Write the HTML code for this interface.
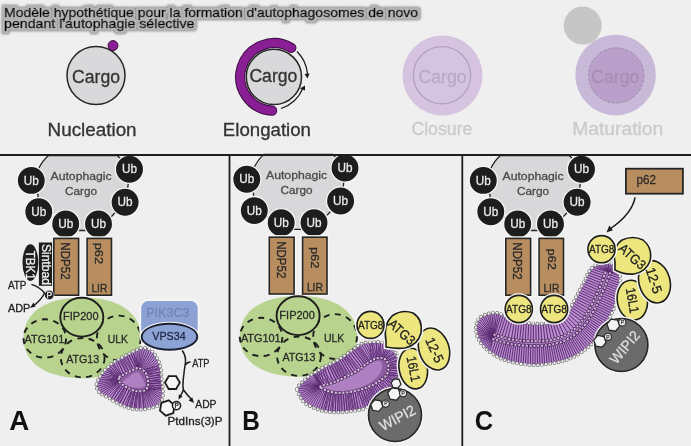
<!DOCTYPE html>
<html><head><meta charset="utf-8">
<style>
html,body{margin:0;padding:0;background:#efefef;overflow:hidden;}
svg{display:block;will-change:transform;}
text{font-family:"Liberation Sans",sans-serif;}
</style></head><body>
<svg width="691" height="446" viewBox="0 0 691 446">
<defs>
<filter id="glow" x="-5%" y="-40%" width="110%" height="180%">
<feMorphology in="SourceAlpha" operator="dilate" radius="2.6" result="d1"/>
<feGaussianBlur in="d1" stdDeviation="1.1" result="b1"/>
<feFlood flood-color="#8e8e8e"/>
<feComposite in2="b1" operator="in" result="g1"/>
<feMorphology in="SourceAlpha" operator="dilate" radius="1.5" result="d2"/>
<feGaussianBlur in="d2" stdDeviation="0.7" result="b2"/>
<feFlood flood-color="#b6b6b6"/>
<feComposite in2="b2" operator="in" result="g2"/>
<feMerge><feMergeNode in="g1"/><feMergeNode in="g2"/><feMergeNode in="SourceGraphic"/></feMerge>
</filter>
<g id="ub">
<circle r="14.1" fill="#1d1d1d" stroke="#f6f6f6" stroke-width="1.3"/>
<text y="4.1" text-anchor="middle" font-size="13.4" fill="#ececec" textLength="15" lengthAdjust="spacingAndGlyphs" stroke="#ececec" stroke-width="0.3">Ub</text>
</g>
<g id="cargo">
<path d="M48.5,155.5 Q42,161 38,170 L31.3,180.4 L38,195 L38.8,211.8 L65.7,223.9 L66,230.5 L98.5,230.5 L98.5,223.9 L112,216 L125.1,202.2 L128,186 L129.5,169.2 L117.4,155.5 Z" fill="#d8d8da" stroke="#222" stroke-width="1.3"/>
<text x="81.1" y="180.4" text-anchor="middle" font-size="11.8" fill="#4a4a4a" textLength="61.2" lengthAdjust="spacingAndGlyphs" stroke="#4a4a4a" stroke-width="0.3">Autophagic</text>
<text x="81.1" y="195" text-anchor="middle" font-size="11.8" fill="#4a4a4a" textLength="32" lengthAdjust="spacingAndGlyphs" stroke="#4a4a4a" stroke-width="0.3">Cargo</text>
<use href="#ub" x="31.3" y="180.4"/>
<use href="#ub" x="38.8" y="211.8"/>
<use href="#ub" x="65.7" y="223.9"/>
<use href="#ub" x="98.5" y="223.9"/>
<use href="#ub" x="129.5" y="169.2"/>
<use href="#ub" x="125.1" y="202.2"/>
<rect x="53.8" y="238.4" width="24.8" height="56.8" fill="none" stroke="#f6f6f6" stroke-width="4.2"/>
<rect x="87.1" y="238.4" width="24.4" height="56.8" fill="none" stroke="#f6f6f6" stroke-width="4.2"/>
<rect x="53.8" y="238.4" width="24.8" height="56.8" fill="#b88e60" stroke="#262626" stroke-width="1.6"/>
<rect x="87.1" y="238.4" width="24.4" height="56.8" fill="#b88e60" stroke="#262626" stroke-width="1.6"/>
<text transform="translate(61.2,261) rotate(90)" text-anchor="middle" font-size="12.5" fill="#2a2a2a" textLength="37.3" lengthAdjust="spacingAndGlyphs" stroke="#2a2a2a" stroke-width="0.3">NDP52</text>
<text x="99.4" y="292.2" text-anchor="middle" font-size="10.8" fill="#2a2a2a" textLength="16" lengthAdjust="spacingAndGlyphs" stroke="#2a2a2a" stroke-width="0.3">LIR</text>
</g>
<g id="ulk">
<path d="M23.400000000000006,337.8 C23.400000000000006,312.8 45.7,297.40000000000003 82.2,297.40000000000003 C118.7,297.40000000000003 141.0,312.8 141.0,337.8 C141.0,362.8 118.7,378.2 82.2,378.2 C45.7,378.2 23.400000000000006,362.8 23.400000000000006,337.8Z" fill="#b7d38d"/>
<g fill="none" stroke="#1e1e1e" stroke-width="1.9" stroke-dasharray="6 5.5">
<ellipse cx="44.8" cy="338.5" rx="21.3" ry="19.2"/>
<ellipse cx="118.8" cy="338" rx="21.9" ry="22.4"/>
<ellipse cx="82.7" cy="357.7" rx="21.9" ry="19.7"/>
</g>
<ellipse cx="81.8" cy="317.2" rx="21.5" ry="19.4" fill="#b7d38d" stroke="#1e1e1e" stroke-width="1.9"/>
<g font-size="11.5" fill="#2a2a2a" lengthAdjust="spacingAndGlyphs" stroke="#2a2a2a" stroke-width="0.3">
<text x="80.8" y="320" text-anchor="middle" textLength="35.5" lengthAdjust="spacingAndGlyphs">FIP200</text>
<text x="24.6" y="343" textLength="39.8" lengthAdjust="spacingAndGlyphs">ATG101</text>
<text x="107.7" y="343" textLength="20.3" lengthAdjust="spacingAndGlyphs">ULK</text>
<text x="66.2" y="362.6" textLength="33" lengthAdjust="spacingAndGlyphs">ATG13</text>
</g>
</g>
</defs>
<rect width="691" height="446" fill="#efefef"/>

<!-- TITLE -->
<g filter="url(#glow)" fill="#000" stroke="#000" stroke-width="0.55" font-size="12.6">
<text x="4" y="16.8" textLength="414" lengthAdjust="spacingAndGlyphs">Modèle hypothétique pour la formation d'autophagosomes de novo</text>
<text x="4" y="27.5" textLength="190.5" lengthAdjust="spacingAndGlyphs">pendant l'autophagie sélective</text>
</g>

<!-- TOP ROW -->
<g id="top">
<!-- Nucleation -->
<circle cx="96" cy="75.5" r="29" fill="#d9d9db" stroke="#262626" stroke-width="1.5"/>
<circle cx="113" cy="45.6" r="5" fill="#8a1e95" stroke="#2a0a2a" stroke-width="0.9"/>
<text x="96" y="82.5" text-anchor="middle" font-size="18" fill="#333" textLength="48" lengthAdjust="spacingAndGlyphs" stroke="#333" stroke-width="0.3">Cargo</text>
<text x="47.6" y="135.5" font-size="17.8" fill="#333" textLength="89" lengthAdjust="spacingAndGlyphs" stroke="#333" stroke-width="0.3">Nucleation</text>

<!-- Elongation -->
<circle cx="273.9" cy="76.9" r="27.6" fill="#d9d9db" stroke="#262626" stroke-width="1.5"/>
<path d="M291.3,47.9 A33.8,33.8 0 1 0 272.1,110.7" fill="none" stroke="#3a0c40" stroke-width="10.2" stroke-linecap="round"/>
<path d="M291.3,47.9 A33.8,33.8 0 1 0 272.1,110.7" fill="none" stroke="#8a1e95" stroke-width="8.2" stroke-linecap="round"/>
<path d="M297,51.5 A36,36 0 0 1 307.5,74" fill="none" stroke="#1a1a1a" stroke-width="1.3"/>
<path d="M304.5,74 L307.5,78.5 L309.5,73.5 Z" fill="#1a1a1a"/>
<path d="M281,108.5 A36,36 0 0 0 303,88" fill="none" stroke="#1a1a1a" stroke-width="1.3"/>
<path d="M300,88.5 L305,85.5 L305,90.5 Z" fill="#1a1a1a"/>
<text x="273.4" y="82" text-anchor="middle" font-size="18" fill="#333" textLength="48" lengthAdjust="spacingAndGlyphs" stroke="#333" stroke-width="0.3">Cargo</text>
<text x="222.8" y="135.5" font-size="17.8" fill="#333" textLength="88.2" lengthAdjust="spacingAndGlyphs" stroke="#333" stroke-width="0.3">Elongation</text>

<!-- Closure -->
<circle cx="442.5" cy="75.5" r="40" fill="#d5c3df"/>
<circle cx="442" cy="75.2" r="28.6" fill="#d5c4df" stroke="#b6a1c4" stroke-width="1.4"/>
<text x="442.6" y="82.5" text-anchor="middle" font-size="18" fill="#bba8c8" textLength="48" lengthAdjust="spacingAndGlyphs" stroke="#bba8c8" stroke-width="0.3">Cargo</text>
<text x="411.4" y="135.2" font-size="17.8" fill="#cbcbcb" textLength="61" lengthAdjust="spacingAndGlyphs" stroke="#cbcbcb" stroke-width="0.3">Closure</text>

<!-- Maturation -->
<circle cx="582.7" cy="25.6" r="19" fill="#c6c6c6"/>
<circle cx="615.6" cy="75" r="40.3" fill="#c8b9d9"/>
<circle cx="616.2" cy="75.4" r="27.6" fill="#b99fc9" stroke="#9c8ba8" stroke-width="1" stroke-dasharray="3 1.5"/>
<text x="615.3" y="82.5" text-anchor="middle" font-size="18" fill="#a78fb8" textLength="48" lengthAdjust="spacingAndGlyphs" stroke="#a78fb8" stroke-width="0.3">Cargo</text>
<text x="572.2" y="135.2" font-size="17.8" fill="#cbcbcb" textLength="91" lengthAdjust="spacingAndGlyphs" stroke="#cbcbcb" stroke-width="0.3">Maturation</text>
</g>

<!-- PANEL A -->
<use href="#cargo"/>
<use href="#cargo" x="215.5" y="-1.2"/>
<use href="#cargo" x="452" y="0"/>
<text transform="translate(95.0,253.4) rotate(90)" text-anchor="middle" font-size="11.5" fill="#2a2a2a" textLength="21.5" lengthAdjust="spacingAndGlyphs" stroke="#2a2a2a" stroke-width="0.3">p62</text>
<text transform="translate(311,257.7) rotate(90)" text-anchor="middle" font-size="11.5" fill="#2a2a2a" textLength="21.5" lengthAdjust="spacingAndGlyphs" stroke="#2a2a2a" stroke-width="0.3">p62</text>
<text transform="translate(548.2,259.2) rotate(90)" text-anchor="middle" font-size="11.5" fill="#2a2a2a" textLength="21.5" lengthAdjust="spacingAndGlyphs" stroke="#2a2a2a" stroke-width="0.3">p62</text>
<use href="#ulk"/>
<use href="#ulk" x="216.3" y="-1.5"/>

<g id="memA">
<path d="M96.5,384.0 C97.1,381.6 99.2,377.6 100.8,375.0 C102.4,372.4 104.0,370.8 106.1,368.7 C108.2,366.6 111.0,364.0 113.3,362.4 C115.5,360.8 117.5,360.0 119.6,358.8 C121.7,357.6 123.5,356.5 125.9,355.2 C128.3,353.9 131.4,352.3 133.9,351.1 C136.4,349.9 138.8,348.5 141.1,348.1 C143.4,347.7 145.9,347.7 148.0,348.5 C150.1,349.3 152.0,351.1 153.7,353.0 C155.4,354.9 156.9,357.4 158.1,360.0 C159.3,362.6 160.2,365.8 160.8,368.7 C161.4,371.6 161.4,374.7 161.7,377.7 C162.0,380.7 162.4,383.9 162.6,386.6 C162.8,389.3 163.2,391.6 163.0,394.0 C162.8,396.4 162.5,399.1 161.7,401.0 C160.9,402.9 159.9,404.3 158.1,405.5 C156.3,406.7 153.7,407.4 151.0,408.1 C148.3,408.8 145.0,409.4 142.0,409.5 C139.0,409.6 136.0,409.5 133.0,409.0 C130.0,408.5 127.0,407.6 124.0,406.4 C121.0,405.2 117.8,403.4 115.1,401.9 C112.4,400.4 110.3,398.8 107.9,397.4 C105.5,396.0 102.6,395.1 100.8,393.8 C99.0,392.5 97.9,391.1 97.2,389.5 C96.5,387.9 95.9,386.4 96.5,384.0Z" fill="#b98dcd"/>
<path d="M97.7,383.8L117.8,380.5M98.5,381.5L117.8,380.0M99.6,379.3L117.7,379.6M100.8,377.2L117.8,379.0M102.0,375.2L117.9,378.5M103.5,373.2L118.0,377.9M105.0,371.4L118.2,377.3M106.7,369.7L118.5,376.7M108.5,368.1L118.9,376.2M110.2,366.5L119.3,375.8M112.0,364.9L119.8,375.4M113.9,363.5L120.5,374.9M115.9,362.1L121.6,374.4M118.1,360.9L123.6,373.5M120.4,359.7L126.5,372.0M122.6,358.5L128.8,370.9M124.8,357.2L131.5,369.4M127.0,356.0L133.0,368.7M129.2,354.8L135.0,367.8M131.3,353.7L136.2,367.3M133.5,352.6L136.9,367.1M135.6,351.5L137.5,367.0M137.8,350.4L138.0,367.0M140.0,349.5L138.5,367.0M142.4,349.1L139.0,367.0M144.8,349.0L139.4,367.2M147.2,349.5L140.1,367.4M149.3,350.6L140.9,367.7M151.2,352.1L141.8,368.2M152.9,353.9L142.9,368.9M154.4,355.8L143.9,369.6M155.7,357.9L144.8,370.4M156.9,360.0L145.5,371.0M157.8,362.3L146.1,371.7M158.6,364.6L146.6,372.4M159.2,366.9L147.0,373.1M159.7,369.2L147.4,374.1M160.0,371.6L147.9,375.4M160.2,374.1L148.4,377.2M160.4,376.6L148.8,378.9M160.6,379.0L149.1,380.7M160.9,381.4L149.2,382.2M161.2,383.8L149.2,383.4M161.4,386.2L149.1,384.6M161.6,388.7L148.9,385.8M161.9,391.1L148.6,386.9M161.9,393.5L148.3,387.8M161.7,395.9L147.9,388.5M161.3,398.3L147.6,389.2M160.6,400.6L147.2,389.7M159.4,402.7L146.8,390.1M157.7,404.3L146.4,390.5M155.6,405.5L146.0,390.8M153.3,406.3L145.5,391.1M151.0,406.9L144.8,391.4M148.6,407.4L144.0,391.7M146.2,407.8L143.0,391.9M143.8,408.2L141.6,392.1M141.3,408.3L140.0,392.3M138.9,408.3L138.8,392.3M136.4,408.2L137.6,392.3M134.0,407.9L136.4,392.2M131.6,407.5L135.0,391.9M129.2,406.9L133.7,391.6M126.9,406.2L132.6,391.2M124.6,405.4L131.3,390.7M122.3,404.4L129.7,389.9M120.1,403.2L127.3,388.7M117.9,402.1L125.6,387.8M115.7,400.9L124.3,387.1M113.6,399.6L123.0,386.2M111.5,398.2L121.3,385.0M109.4,396.9L120.2,384.1M107.3,395.8L119.4,383.4M105.1,394.8L118.9,382.9M102.9,393.8L118.6,382.5M100.9,392.4L118.4,382.1M99.2,390.7L118.2,381.8M98.1,388.5L118.0,381.4M97.4,386.2L117.9,381.0M118.9,375.9L110.3,366.1M121.1,374.4L112.8,364.0M123.6,373.3L117.4,361.1M125.9,372.1L119.4,360.1M128.2,371.0L121.2,359.1M130.5,369.8L123.4,357.7M132.8,368.6L126.0,356.3M135.1,367.5L128.5,354.9M137.6,366.9L130.8,353.7M140.1,367.6L132.7,352.8M143.9,369.8L159.0,365.6M145.9,371.5L159.8,368.6M147.4,373.7L160.3,372.7M148.3,376.2L160.5,375.4M148.9,378.6L160.7,377.5M149.3,381.2L160.9,379.9M149.4,383.7L161.2,382.5M148.9,386.3L161.5,385.1M147.9,388.6L161.7,387.4M145.9,390.2L161.8,388.8M142.4,392.2L144.2,408.3M139.7,392.5L139.6,408.6M137.0,392.4L135.1,408.3M134.3,391.9L130.4,407.4M131.7,391.1L126.4,406.2M129.3,389.9L122.6,404.7M127.0,388.7L119.3,403.1M124.7,387.5L116.7,401.7M122.5,386.0L113.7,399.9M120.4,384.5L111.3,398.3M118.4,380.8L106.9,369.3M117.9,378.3L108.3,368.0" fill="none" stroke="#582870" stroke-width="0.9"/>
<path d="M119.7,376.8 C120.7,375.6 123.3,374.8 125.0,373.9 C126.6,373.1 128.0,372.4 129.6,371.6 C131.1,370.8 132.8,369.8 134.3,369.2 C135.9,368.6 137.2,367.7 138.9,368.1 C140.6,368.5 143.3,370.3 144.7,371.6 C146.0,373.0 146.5,374.2 147.1,376.2 C147.7,378.3 148.4,381.6 148.2,383.8 C148.0,386.0 147.3,388.3 145.9,389.6 C144.6,390.8 142.0,391.1 140.1,391.3 C138.1,391.5 136.1,391.2 134.3,390.7 C132.5,390.2 130.8,389.3 129.0,388.4 C127.3,387.6 125.5,386.7 123.8,385.5 C122.2,384.4 119.8,382.9 119.1,381.4 C118.4,379.9 118.7,378.0 119.7,376.8Z" fill="#8e5ea2"/>
<path d="M122.0,382.5 C122.8,381.3 126.0,379.1 128.0,377.5 C130.0,375.9 132.4,373.9 134.0,373.0 C135.6,372.1 136.4,372.0 137.5,372.3 C138.6,372.6 139.5,373.6 140.5,375.0 C141.5,376.4 142.8,378.8 143.5,380.5 C144.2,382.2 145.2,384.3 145.0,385.5 C144.8,386.7 143.7,387.2 142.0,387.6 C140.3,388.0 137.3,387.8 135.0,387.6 C132.7,387.4 129.9,386.7 128.0,386.2 C126.1,385.7 124.5,385.3 123.5,384.7 C122.5,384.1 121.2,383.7 122.0,382.5Z" fill="#ae80c1"/>
<path d="M96.5,384.0 C97.1,381.6 99.2,377.6 100.8,375.0 C102.4,372.4 104.0,370.8 106.1,368.7 C108.2,366.6 111.0,364.0 113.3,362.4 C115.5,360.8 117.5,360.0 119.6,358.8 C121.7,357.6 123.5,356.5 125.9,355.2 C128.3,353.9 131.4,352.3 133.9,351.1 C136.4,349.9 138.8,348.5 141.1,348.1 C143.4,347.7 145.9,347.7 148.0,348.5 C150.1,349.3 152.0,351.1 153.7,353.0 C155.4,354.9 156.9,357.4 158.1,360.0 C159.3,362.6 160.2,365.8 160.8,368.7 C161.4,371.6 161.4,374.7 161.7,377.7 C162.0,380.7 162.4,383.9 162.6,386.6 C162.8,389.3 163.2,391.6 163.0,394.0 C162.8,396.4 162.5,399.1 161.7,401.0 C160.9,402.9 159.9,404.3 158.1,405.5 C156.3,406.7 153.7,407.4 151.0,408.1 C148.3,408.8 145.0,409.4 142.0,409.5 C139.0,409.6 136.0,409.5 133.0,409.0 C130.0,408.5 127.0,407.6 124.0,406.4 C121.0,405.2 117.8,403.4 115.1,401.9 C112.4,400.4 110.3,398.8 107.9,397.4 C105.5,396.0 102.6,395.1 100.8,393.8 C99.0,392.5 97.9,391.1 97.2,389.5 C96.5,387.9 95.9,386.4 96.5,384.0Z" fill="none" stroke="#6a6a6a" stroke-width="3.7" stroke-dasharray="0 4.2" stroke-linecap="round"/><path d="M96.5,384.0 C97.1,381.6 99.2,377.6 100.8,375.0 C102.4,372.4 104.0,370.8 106.1,368.7 C108.2,366.6 111.0,364.0 113.3,362.4 C115.5,360.8 117.5,360.0 119.6,358.8 C121.7,357.6 123.5,356.5 125.9,355.2 C128.3,353.9 131.4,352.3 133.9,351.1 C136.4,349.9 138.8,348.5 141.1,348.1 C143.4,347.7 145.9,347.7 148.0,348.5 C150.1,349.3 152.0,351.1 153.7,353.0 C155.4,354.9 156.9,357.4 158.1,360.0 C159.3,362.6 160.2,365.8 160.8,368.7 C161.4,371.6 161.4,374.7 161.7,377.7 C162.0,380.7 162.4,383.9 162.6,386.6 C162.8,389.3 163.2,391.6 163.0,394.0 C162.8,396.4 162.5,399.1 161.7,401.0 C160.9,402.9 159.9,404.3 158.1,405.5 C156.3,406.7 153.7,407.4 151.0,408.1 C148.3,408.8 145.0,409.4 142.0,409.5 C139.0,409.6 136.0,409.5 133.0,409.0 C130.0,408.5 127.0,407.6 124.0,406.4 C121.0,405.2 117.8,403.4 115.1,401.9 C112.4,400.4 110.3,398.8 107.9,397.4 C105.5,396.0 102.6,395.1 100.8,393.8 C99.0,392.5 97.9,391.1 97.2,389.5 C96.5,387.9 95.9,386.4 96.5,384.0Z" fill="none" stroke="#f4f4f4" stroke-width="2.4" stroke-dasharray="0 4.2" stroke-linecap="round"/>
<path d="M119.7,376.8 C120.7,375.6 123.3,374.8 125.0,373.9 C126.6,373.1 128.0,372.4 129.6,371.6 C131.1,370.8 132.8,369.8 134.3,369.2 C135.9,368.6 137.2,367.7 138.9,368.1 C140.6,368.5 143.3,370.3 144.7,371.6 C146.0,373.0 146.5,374.2 147.1,376.2 C147.7,378.3 148.4,381.6 148.2,383.8 C148.0,386.0 147.3,388.3 145.9,389.6 C144.6,390.8 142.0,391.1 140.1,391.3 C138.1,391.5 136.1,391.2 134.3,390.7 C132.5,390.2 130.8,389.3 129.0,388.4 C127.3,387.6 125.5,386.7 123.8,385.5 C122.2,384.4 119.8,382.9 119.1,381.4 C118.4,379.9 118.7,378.0 119.7,376.8Z" fill="none" stroke="#4a2458" stroke-width="3.7" stroke-dasharray="0 3.8" stroke-linecap="round"/><path d="M119.7,376.8 C120.7,375.6 123.3,374.8 125.0,373.9 C126.6,373.1 128.0,372.4 129.6,371.6 C131.1,370.8 132.8,369.8 134.3,369.2 C135.9,368.6 137.2,367.7 138.9,368.1 C140.6,368.5 143.3,370.3 144.7,371.6 C146.0,373.0 146.5,374.2 147.1,376.2 C147.7,378.3 148.4,381.6 148.2,383.8 C148.0,386.0 147.3,388.3 145.9,389.6 C144.6,390.8 142.0,391.1 140.1,391.3 C138.1,391.5 136.1,391.2 134.3,390.7 C132.5,390.2 130.8,389.3 129.0,388.4 C127.3,387.6 125.5,386.7 123.8,385.5 C122.2,384.4 119.8,382.9 119.1,381.4 C118.4,379.9 118.7,378.0 119.7,376.8Z" fill="none" stroke="#d6c2df" stroke-width="2.4" stroke-dasharray="0 3.8" stroke-linecap="round"/>
</g>
<g id="memB">
<path d="M297.0,389.0 C296.9,387.3 297.6,387.0 298.7,385.6 C299.8,384.2 302.2,382.0 303.9,380.4 C305.6,378.8 307.1,377.4 309.1,376.0 C311.1,374.6 313.7,373.1 316.0,371.7 C318.3,370.2 320.7,368.6 323.0,367.3 C325.3,366.0 327.7,365.0 330.0,363.9 C332.3,362.8 334.6,361.7 336.9,360.4 C339.2,359.1 341.5,357.6 343.8,356.0 C346.1,354.4 348.6,352.4 350.8,350.8 C353.0,349.2 354.9,347.8 356.9,346.5 C358.9,345.2 360.7,343.8 362.9,343.0 C365.1,342.2 367.6,342.2 369.9,342.0 C372.2,341.8 374.5,341.6 376.8,341.8 C379.1,342.0 381.6,342.2 383.8,343.0 C386.0,343.8 388.0,345.1 389.9,346.5 C391.8,347.9 393.7,349.7 395.1,351.7 C396.5,353.7 397.7,356.2 398.5,358.7 C399.3,361.2 399.6,364.1 399.8,366.5 C400.0,368.9 399.8,371.1 399.6,373.4 C399.4,375.7 399.3,378.2 398.6,380.4 C397.9,382.6 396.8,384.5 395.5,386.5 C394.2,388.5 392.6,390.6 390.7,392.6 C388.8,394.6 386.1,397.1 383.8,398.7 C381.5,400.3 379.1,401.2 376.8,402.4 C374.5,403.6 372.2,404.7 369.9,405.8 C367.6,406.9 365.5,408.3 362.9,409.1 C360.3,409.9 357.2,410.3 354.3,410.8 C351.4,411.3 348.5,411.6 345.6,411.9 C342.7,412.2 339.8,412.5 336.9,412.5 C334.0,412.5 331.1,412.3 328.2,411.9 C325.3,411.5 322.4,410.9 319.5,410.0 C316.6,409.1 313.4,407.8 310.8,406.5 C308.2,405.2 305.8,403.9 303.9,402.1 C302.0,400.4 300.8,398.2 299.6,396.0 C298.5,393.8 297.1,390.7 297.0,389.0Z" fill="#b98dcd"/>
<path d="M298.2,388.9L319.4,386.9M298.9,386.8L319.4,386.8M300.5,385.0L319.4,386.7M302.1,383.4L319.4,386.5M303.8,381.9L319.5,386.4M305.6,380.4L319.5,386.3M307.3,378.9L319.6,386.1M309.0,377.5L319.7,385.9M310.9,376.2L319.9,385.7M312.8,375.0L320.2,385.5M314.7,373.9L320.5,385.3M316.7,372.7L321.2,385.0M318.6,371.4L322.3,384.7M320.6,370.1L324.0,384.2M322.7,368.8L327.0,383.4M324.8,367.7L328.6,383.0M327.1,366.6L332.5,381.9M329.3,365.5L336.1,380.4M331.5,364.5L338.7,379.1M333.7,363.4L340.8,378.1M335.9,362.3L342.9,377.1M338.0,361.2L345.1,376.0M340.1,359.9L347.5,374.9M342.1,358.6L350.2,373.5M344.1,357.2L352.6,372.1M346.1,355.8L355.1,370.7M348.1,354.3L357.5,369.2M350.1,352.8L360.8,366.9M352.1,351.4L363.0,365.2M354.0,350.0L364.6,364.0M355.9,348.6L365.9,363.0M357.9,347.3L367.9,361.6M359.9,345.9L369.5,360.5M361.9,344.7L370.8,359.7M364.1,343.9L372.0,359.1M366.4,343.4L373.0,358.6M368.8,343.2L374.3,358.1M371.1,343.1L375.6,357.6M373.4,342.9L376.9,357.3M375.8,342.9L378.2,357.0M378.1,343.1L379.3,356.8M380.4,343.4L380.3,356.8M382.6,343.9L381.4,356.8M384.8,344.7L382.4,357.0M386.8,345.8L383.3,357.2M388.7,347.0L384.2,357.5M390.5,348.5L385.0,357.9M392.1,350.0L385.7,358.4M393.6,351.7L386.4,359.0M394.9,353.6L386.9,359.6M396.0,355.6L387.5,360.5M396.9,357.7L388.1,361.6M397.6,359.8L388.6,362.9M398.1,362.1L389.1,364.4M398.4,364.4L389.3,365.6M398.6,366.6L389.4,366.8M398.7,368.9L389.3,368.2M398.6,371.2L389.1,369.8M398.4,373.6L388.8,371.9M398.2,375.9L388.5,373.1M397.9,378.2L388.2,374.1M397.4,380.4L387.8,374.9M396.5,382.5L387.3,375.7M395.4,384.5L386.6,376.5M394.1,386.4L385.7,377.4M392.8,388.3L384.6,378.4M391.3,390.2L383.2,379.5M389.7,392.0L381.5,380.8M388.0,393.6L379.7,382.1M386.2,395.2L378.1,383.2M384.4,396.8L376.6,384.2M382.5,398.1L375.2,385.0M380.4,399.3L373.7,385.7M378.3,400.3L372.3,386.4M376.2,401.4L370.5,387.2M374.1,402.4L368.7,387.8M371.9,403.5L366.7,388.6M369.7,404.6L364.5,389.3M367.6,405.6L362.5,390.0M365.5,406.7L360.5,390.6M363.3,407.7L358.8,391.1M361.0,408.4L356.9,391.6M358.7,408.9L355.0,392.1M356.3,409.3L352.9,392.5M354.0,409.6L351.0,392.9M351.6,410.0L349.1,393.2M349.2,410.3L347.2,393.4M346.9,410.6L345.4,393.6M344.5,410.8L343.5,393.7M342.2,411.0L341.7,393.8M339.8,411.2L339.9,393.8M337.4,411.3L338.0,393.8M335.0,411.3L336.3,393.7M332.7,411.2L334.7,393.6M330.3,411.0L333.2,393.3M328.0,410.7L331.6,393.0M325.7,410.3L330.1,392.7M323.3,409.8L328.6,392.3M321.1,409.2L327.1,391.8M318.8,408.5L325.7,391.3M316.6,407.7L324.3,390.7M314.4,406.8L322.9,390.0M312.2,405.9L321.8,389.4M310.2,404.8L321.0,388.9M308.1,403.7L320.4,388.5M306.2,402.5L320.1,388.2M304.4,401.0L319.9,387.9M303.0,399.2L319.7,387.7M301.7,397.3L319.6,387.6M300.6,395.3L319.5,387.4M299.6,393.2L319.5,387.2M298.7,391.1L319.4,387.1M319.8,385.8L313.0,374.7M321.8,384.6L315.1,373.4M324.1,384.1L316.7,372.4M326.4,383.4L318.6,371.2M328.8,382.8L320.6,369.9M331.1,382.1L323.3,368.3M333.5,381.3L326.5,366.6M335.7,380.3L328.9,365.6M337.9,379.3L330.6,364.7M340.0,378.3L332.9,363.6M342.2,377.2L334.8,362.7M344.3,376.2L336.5,361.8M346.5,375.2L338.0,360.9M348.6,374.1L339.7,359.9M350.7,373.0L341.4,358.8M352.8,371.8L343.3,357.6M354.9,370.6L344.8,356.5M356.9,369.4L346.4,355.3M358.9,368.1L348.2,354.0M360.9,366.6L350.2,352.5M362.8,365.1L352.4,350.9M364.7,363.7L354.4,349.4M366.7,362.2L357.0,347.6M368.7,360.9L358.9,346.4M371.3,359.4L369.8,343.0M373.4,358.3L372.6,342.8M375.9,357.4L376.9,342.8M378.3,356.8L380.6,343.2M381.2,356.8L388.6,346.7M383.7,357.2L391.2,348.9M386.1,358.5L394.7,352.9M387.7,360.5L396.7,356.6M388.8,362.9L398.0,360.8M389.4,365.3L398.6,364.2M389.5,367.8L398.9,367.5M389.3,370.3L398.8,370.9M388.8,372.7L398.6,373.6M387.9,374.9L398.4,376.0M386.2,377.1L396.9,382.1M384.2,378.9L394.8,385.7M382.3,380.4L392.9,388.5M380.2,381.9L390.5,391.4M378.2,383.3L388.2,393.7M376.1,384.7L385.7,395.9M373.8,385.9L380.8,399.3M371.5,387.0L378.1,400.7M369.3,387.8L376.3,401.5M367.0,388.6L374.0,402.7M364.8,389.4L371.8,403.8M362.5,390.2L369.5,404.9M360.2,390.9L367.9,405.7M357.8,391.6L365.4,407.0M355.2,392.2L358.0,409.2M352.8,392.7L355.5,409.6M350.4,393.2L353.0,410.0M348.0,393.5L350.1,410.4M345.6,393.8L347.4,410.7M343.2,394.0L344.9,411.0M340.7,394.0L342.2,411.2M338.3,394.0L339.2,411.4M335.8,393.9L335.4,411.5M333.3,393.6L332.0,411.3M330.9,393.1L328.3,410.9M328.5,392.5L324.9,410.3M326.1,391.6L321.3,409.5M323.6,388.5L314.8,373.6M321.5,387.4L313.7,374.3" fill="none" stroke="#582870" stroke-width="0.85"/>
<path d="M320.4,386.8 C320.4,385.8 324.3,385.3 326.5,384.6 C328.7,383.9 330.8,383.6 333.4,382.6 C336.0,381.6 339.2,380.0 342.1,378.6 C345.0,377.2 347.9,375.9 350.8,374.3 C353.7,372.7 356.9,370.8 359.5,369.1 C362.1,367.4 364.1,365.5 366.4,363.9 C368.7,362.3 371.1,360.5 373.4,359.5 C375.7,358.5 378.3,357.8 380.3,357.8 C382.3,357.8 384.2,358.4 385.5,359.5 C386.8,360.6 387.7,362.9 388.1,364.7 C388.5,366.4 388.4,368.2 388.1,370.0 C387.8,371.8 387.7,373.5 386.4,375.2 C385.1,376.9 382.5,378.8 380.3,380.4 C378.1,382.0 376.0,383.5 373.4,384.8 C370.8,386.1 367.6,387.2 364.7,388.2 C361.8,389.2 359.2,390.1 356.0,390.8 C352.8,391.5 349.1,392.3 345.6,392.6 C342.1,392.9 338.4,393.0 335.2,392.6 C332.0,392.2 329.0,391.5 326.5,390.5 C324.0,389.5 320.4,387.8 320.4,386.8Z" fill="#8e5ea2"/>
<path d="M322.0,387.0 C322.2,386.2 325.9,385.6 328.0,385.0 C330.1,384.4 332.0,384.2 334.5,383.3 C337.0,382.4 340.2,380.9 343.0,379.6 C345.8,378.3 348.7,377.0 351.5,375.5 C354.3,374.0 357.4,372.1 360.0,370.5 C362.6,368.9 364.8,367.2 367.0,365.8 C369.2,364.4 371.6,362.8 373.5,362.0 C375.4,361.2 377.2,360.8 378.5,361.0 C379.8,361.2 380.9,361.8 381.5,363.0 C382.1,364.2 382.3,366.2 382.0,368.0 C381.7,369.8 380.7,372.2 379.5,374.0 C378.3,375.8 376.8,377.4 375.0,379.0 C373.2,380.6 371.2,382.2 369.0,383.5 C366.8,384.8 364.3,386.0 362.0,387.0 C359.7,388.0 357.7,388.8 355.0,389.5 C352.3,390.2 348.9,390.8 345.6,391.0 C342.3,391.2 338.3,391.2 335.2,391.0 C332.1,390.8 329.2,390.2 327.0,389.5 C324.8,388.8 321.8,387.8 322.0,387.0Z" fill="#ae80c1"/>
<path d="M297.0,389.0 C296.9,387.3 297.6,387.0 298.7,385.6 C299.8,384.2 302.2,382.0 303.9,380.4 C305.6,378.8 307.1,377.4 309.1,376.0 C311.1,374.6 313.7,373.1 316.0,371.7 C318.3,370.2 320.7,368.6 323.0,367.3 C325.3,366.0 327.7,365.0 330.0,363.9 C332.3,362.8 334.6,361.7 336.9,360.4 C339.2,359.1 341.5,357.6 343.8,356.0 C346.1,354.4 348.6,352.4 350.8,350.8 C353.0,349.2 354.9,347.8 356.9,346.5 C358.9,345.2 360.7,343.8 362.9,343.0 C365.1,342.2 367.6,342.2 369.9,342.0 C372.2,341.8 374.5,341.6 376.8,341.8 C379.1,342.0 381.6,342.2 383.8,343.0 C386.0,343.8 388.0,345.1 389.9,346.5 C391.8,347.9 393.7,349.7 395.1,351.7 C396.5,353.7 397.7,356.2 398.5,358.7 C399.3,361.2 399.6,364.1 399.8,366.5 C400.0,368.9 399.8,371.1 399.6,373.4 C399.4,375.7 399.3,378.2 398.6,380.4 C397.9,382.6 396.8,384.5 395.5,386.5 C394.2,388.5 392.6,390.6 390.7,392.6 C388.8,394.6 386.1,397.1 383.8,398.7 C381.5,400.3 379.1,401.2 376.8,402.4 C374.5,403.6 372.2,404.7 369.9,405.8 C367.6,406.9 365.5,408.3 362.9,409.1 C360.3,409.9 357.2,410.3 354.3,410.8 C351.4,411.3 348.5,411.6 345.6,411.9 C342.7,412.2 339.8,412.5 336.9,412.5 C334.0,412.5 331.1,412.3 328.2,411.9 C325.3,411.5 322.4,410.9 319.5,410.0 C316.6,409.1 313.4,407.8 310.8,406.5 C308.2,405.2 305.8,403.9 303.9,402.1 C302.0,400.4 300.8,398.2 299.6,396.0 C298.5,393.8 297.1,390.7 297.0,389.0Z" fill="none" stroke="#6a6a6a" stroke-width="3.7" stroke-dasharray="0 4.2" stroke-linecap="round"/><path d="M297.0,389.0 C296.9,387.3 297.6,387.0 298.7,385.6 C299.8,384.2 302.2,382.0 303.9,380.4 C305.6,378.8 307.1,377.4 309.1,376.0 C311.1,374.6 313.7,373.1 316.0,371.7 C318.3,370.2 320.7,368.6 323.0,367.3 C325.3,366.0 327.7,365.0 330.0,363.9 C332.3,362.8 334.6,361.7 336.9,360.4 C339.2,359.1 341.5,357.6 343.8,356.0 C346.1,354.4 348.6,352.4 350.8,350.8 C353.0,349.2 354.9,347.8 356.9,346.5 C358.9,345.2 360.7,343.8 362.9,343.0 C365.1,342.2 367.6,342.2 369.9,342.0 C372.2,341.8 374.5,341.6 376.8,341.8 C379.1,342.0 381.6,342.2 383.8,343.0 C386.0,343.8 388.0,345.1 389.9,346.5 C391.8,347.9 393.7,349.7 395.1,351.7 C396.5,353.7 397.7,356.2 398.5,358.7 C399.3,361.2 399.6,364.1 399.8,366.5 C400.0,368.9 399.8,371.1 399.6,373.4 C399.4,375.7 399.3,378.2 398.6,380.4 C397.9,382.6 396.8,384.5 395.5,386.5 C394.2,388.5 392.6,390.6 390.7,392.6 C388.8,394.6 386.1,397.1 383.8,398.7 C381.5,400.3 379.1,401.2 376.8,402.4 C374.5,403.6 372.2,404.7 369.9,405.8 C367.6,406.9 365.5,408.3 362.9,409.1 C360.3,409.9 357.2,410.3 354.3,410.8 C351.4,411.3 348.5,411.6 345.6,411.9 C342.7,412.2 339.8,412.5 336.9,412.5 C334.0,412.5 331.1,412.3 328.2,411.9 C325.3,411.5 322.4,410.9 319.5,410.0 C316.6,409.1 313.4,407.8 310.8,406.5 C308.2,405.2 305.8,403.9 303.9,402.1 C302.0,400.4 300.8,398.2 299.6,396.0 C298.5,393.8 297.1,390.7 297.0,389.0Z" fill="none" stroke="#f4f4f4" stroke-width="2.4" stroke-dasharray="0 4.2" stroke-linecap="round"/>
<path d="M320.4,386.8 C320.4,385.8 324.3,385.3 326.5,384.6 C328.7,383.9 330.8,383.6 333.4,382.6 C336.0,381.6 339.2,380.0 342.1,378.6 C345.0,377.2 347.9,375.9 350.8,374.3 C353.7,372.7 356.9,370.8 359.5,369.1 C362.1,367.4 364.1,365.5 366.4,363.9 C368.7,362.3 371.1,360.5 373.4,359.5 C375.7,358.5 378.3,357.8 380.3,357.8 C382.3,357.8 384.2,358.4 385.5,359.5 C386.8,360.6 387.7,362.9 388.1,364.7 C388.5,366.4 388.4,368.2 388.1,370.0 C387.8,371.8 387.7,373.5 386.4,375.2 C385.1,376.9 382.5,378.8 380.3,380.4 C378.1,382.0 376.0,383.5 373.4,384.8 C370.8,386.1 367.6,387.2 364.7,388.2 C361.8,389.2 359.2,390.1 356.0,390.8 C352.8,391.5 349.1,392.3 345.6,392.6 C342.1,392.9 338.4,393.0 335.2,392.6 C332.0,392.2 329.0,391.5 326.5,390.5 C324.0,389.5 320.4,387.8 320.4,386.8Z" fill="none" stroke="#4a2458" stroke-width="3.7" stroke-dasharray="0 3.8" stroke-linecap="round"/><path d="M320.4,386.8 C320.4,385.8 324.3,385.3 326.5,384.6 C328.7,383.9 330.8,383.6 333.4,382.6 C336.0,381.6 339.2,380.0 342.1,378.6 C345.0,377.2 347.9,375.9 350.8,374.3 C353.7,372.7 356.9,370.8 359.5,369.1 C362.1,367.4 364.1,365.5 366.4,363.9 C368.7,362.3 371.1,360.5 373.4,359.5 C375.7,358.5 378.3,357.8 380.3,357.8 C382.3,357.8 384.2,358.4 385.5,359.5 C386.8,360.6 387.7,362.9 388.1,364.7 C388.5,366.4 388.4,368.2 388.1,370.0 C387.8,371.8 387.7,373.5 386.4,375.2 C385.1,376.9 382.5,378.8 380.3,380.4 C378.1,382.0 376.0,383.5 373.4,384.8 C370.8,386.1 367.6,387.2 364.7,388.2 C361.8,389.2 359.2,390.1 356.0,390.8 C352.8,391.5 349.1,392.3 345.6,392.6 C342.1,392.9 338.4,393.0 335.2,392.6 C332.0,392.2 329.0,391.5 326.5,390.5 C324.0,389.5 320.4,387.8 320.4,386.8Z" fill="none" stroke="#d6c2df" stroke-width="2.4" stroke-dasharray="0 3.8" stroke-linecap="round"/>
</g>
<g id="memC">
<clipPath id="clipC"><path d="M475.9,327.6 C476.0,324.4 476.8,321.2 478.5,319.0 C480.2,316.8 483.0,315.2 486.1,314.2 C489.2,313.2 493.3,312.4 496.9,312.8 C500.5,313.2 503.1,315.2 507.6,316.8 C512.1,318.4 518.4,321.1 523.8,322.2 C529.2,323.3 534.5,323.8 539.9,323.6 C545.3,323.4 551.5,322.7 556.0,320.9 C560.5,319.1 563.9,315.9 566.8,312.8 C569.7,309.7 571.5,305.7 573.5,302.1 C575.5,298.5 577.1,294.8 578.9,291.3 C580.7,287.8 582.6,284.2 584.3,281.0 C585.9,277.8 587.0,274.4 588.8,271.8 C590.5,269.2 592.5,267.1 594.8,265.6 C597.1,264.1 599.9,263.4 602.5,263.0 C605.1,262.6 608.1,262.4 610.5,263.0 C612.9,263.6 615.3,264.6 616.8,266.3 C618.3,268.1 619.2,270.4 619.7,273.5 C620.2,276.6 620.1,280.9 619.7,285.0 C619.3,289.1 618.4,294.0 617.4,298.0 C616.4,302.0 615.4,305.2 613.9,308.8 C612.4,312.4 610.3,315.9 608.5,319.5 C606.7,323.1 605.3,326.8 603.2,330.2 C601.1,333.6 598.5,337.0 595.8,340.0 C593.1,343.0 590.4,345.6 587.0,348.3 C583.6,351.0 579.4,354.0 575.3,356.2 C571.2,358.4 567.0,360.0 562.5,361.3 C558.0,362.6 552.7,363.2 548.0,363.9 C543.3,364.5 539.0,365.2 534.5,365.2 C530.0,365.2 525.6,364.6 521.1,363.9 C516.6,363.2 511.9,362.5 507.6,361.2 C503.3,359.9 499.3,358.0 495.5,355.8 C491.7,353.6 487.7,350.7 484.8,347.8 C481.9,344.9 479.6,341.8 478.1,338.4 C476.6,335.0 475.8,330.8 475.9,327.6Z"/></clipPath>
<clipPath id="clipCR"><rect x="495" y="200" width="200" height="200"/></clipPath>
<clipPath id="clipCL"><rect x="400" y="200" width="95.2" height="200"/></clipPath>
<path d="M475.9,327.6 C476.0,324.4 476.8,321.2 478.5,319.0 C480.2,316.8 483.0,315.2 486.1,314.2 C489.2,313.2 493.3,312.4 496.9,312.8 C500.5,313.2 503.1,315.2 507.6,316.8 C512.1,318.4 518.4,321.1 523.8,322.2 C529.2,323.3 534.5,323.8 539.9,323.6 C545.3,323.4 551.5,322.7 556.0,320.9 C560.5,319.1 563.9,315.9 566.8,312.8 C569.7,309.7 571.5,305.7 573.5,302.1 C575.5,298.5 577.1,294.8 578.9,291.3 C580.7,287.8 582.6,284.2 584.3,281.0 C585.9,277.8 587.0,274.4 588.8,271.8 C590.5,269.2 592.5,267.1 594.8,265.6 C597.1,264.1 599.9,263.4 602.5,263.0 C605.1,262.6 608.1,262.4 610.5,263.0 C612.9,263.6 615.3,264.6 616.8,266.3 C618.3,268.1 619.2,270.4 619.7,273.5 C620.2,276.6 620.1,280.9 619.7,285.0 C619.3,289.1 618.4,294.0 617.4,298.0 C616.4,302.0 615.4,305.2 613.9,308.8 C612.4,312.4 610.3,315.9 608.5,319.5 C606.7,323.1 605.3,326.8 603.2,330.2 C601.1,333.6 598.5,337.0 595.8,340.0 C593.1,343.0 590.4,345.6 587.0,348.3 C583.6,351.0 579.4,354.0 575.3,356.2 C571.2,358.4 567.0,360.0 562.5,361.3 C558.0,362.6 552.7,363.2 548.0,363.9 C543.3,364.5 539.0,365.2 534.5,365.2 C530.0,365.2 525.6,364.6 521.1,363.9 C516.6,363.2 511.9,362.5 507.6,361.2 C503.3,359.9 499.3,358.0 495.5,355.8 C491.7,353.6 487.7,350.7 484.8,347.8 C481.9,344.9 479.6,341.8 478.1,338.4 C476.6,335.0 475.8,330.8 475.9,327.6Z" fill="#b98dcd"/>
<path d="M477.0,328.2L493.7,336.9M477.1,325.9L493.7,336.8M477.5,323.6L493.8,336.8M478.4,321.4L493.8,336.8M479.6,319.5L493.8,336.8M481.3,318.0L493.8,336.8M483.2,316.7L493.9,336.7M485.3,315.8L493.9,336.7M487.5,315.0L493.9,336.7M489.7,314.5L493.9,336.7M491.9,314.1L494.0,336.7M494.2,313.9L494.0,336.7M496.5,314.0L494.0,336.7M498.8,314.4L494.1,336.7M500.9,315.2L494.5,336.8M503.1,316.2L496.3,337.4M505.3,317.2L498.6,338.1M507.6,318.1L501.2,338.9M509.9,318.9L504.1,339.8M512.2,319.8L507.3,340.6M514.5,320.6L511.0,341.4M516.8,321.4L513.9,341.8M519.1,322.2L516.6,342.2M521.5,322.9L519.5,342.5M523.9,323.4L522.3,342.8M526.3,323.9L525.1,343.0M528.7,324.3L527.8,343.1M531.1,324.5L530.7,343.2M533.5,324.7L533.3,343.3M535.9,324.8L536.1,343.3M538.4,324.8L538.9,343.2M540.8,324.8L541.8,343.1M543.3,324.6L545.0,342.9M545.7,324.4L548.4,342.5M548.2,324.1L551.8,341.9M550.6,323.7L555.1,341.1M553.1,323.1L558.4,340.2M555.4,322.4L561.8,339.0M557.8,321.4L565.3,337.5M560.0,320.2L569.1,335.5M562.1,318.8L572.6,333.2M564.0,317.2L575.7,330.7M565.8,315.5L578.3,328.3M567.6,313.7L580.9,325.6M569.2,311.8L583.4,322.5M570.6,309.8L585.3,319.8M571.8,307.7L586.9,317.4M573.0,305.5L588.4,315.0M574.2,303.4L589.8,312.8M575.3,301.2L591.4,310.0M576.5,299.1L592.8,307.3M577.5,296.9L594.0,304.8M578.6,294.7L595.1,302.5M579.6,292.5L596.2,300.2M580.7,290.4L597.2,298.0M581.9,288.2L598.2,295.8M583.0,286.1L599.3,293.4M584.1,283.9L600.4,291.0M585.3,281.8L601.4,288.6M586.3,279.6L602.4,286.2M587.3,277.4L603.3,283.8M588.3,275.2L604.3,281.3M589.4,273.0L605.3,278.8M590.8,271.0L606.1,276.4M592.3,269.1L606.9,274.2M594.0,267.4L607.6,272.3M595.9,266.1L607.7,271.9M598.0,265.2L607.8,271.8M600.1,264.5L607.8,271.8M602.3,264.1L607.8,271.8M604.5,263.9L607.9,271.7M606.6,263.8L607.9,271.7M608.7,263.9L608.0,271.7M610.8,264.3L608.1,271.7M612.8,265.0L608.2,271.8M614.7,266.0L608.2,271.8M616.2,267.4L608.3,271.9M617.3,269.3L608.3,271.9M618.0,271.3L608.3,272.0M618.5,273.4L608.3,272.0M618.8,275.6L608.3,272.1M618.9,278.0L607.6,274.0M618.8,280.4L606.9,276.2M618.7,282.8L606.1,278.3M618.5,285.2L605.4,280.3M618.2,287.6L604.6,282.3M617.9,290.0L603.8,284.3M617.4,292.3L602.9,286.4M616.9,294.7L602.1,288.5M616.4,297.0L601.2,290.5M615.8,299.4L600.4,292.5M615.2,301.7L599.4,294.6M614.4,304.0L598.5,296.6M613.6,306.2L597.5,298.8M612.7,308.5L596.5,300.9M611.7,310.7L595.5,303.0M610.7,312.8L594.6,305.0M609.5,314.9L593.6,306.9M608.4,317.0L592.7,308.8M607.3,319.2L591.7,310.6M606.3,321.3L590.8,312.3M605.3,323.5L589.7,314.1M604.3,325.7L588.6,315.9M603.2,327.8L587.4,317.7M602.0,329.9L586.4,319.4M600.7,331.9L585.2,321.0M599.3,333.8L584.2,322.5M597.9,335.7L583.0,324.0M596.4,337.5L581.9,325.3M594.8,339.3L580.9,326.5M593.2,341.1L579.6,327.8M591.5,342.7L578.4,329.1M589.8,344.4L577.1,330.3M588.0,345.9L575.7,331.4M586.2,347.4L574.4,332.6M584.3,348.9L573.0,333.6M582.4,350.3L571.7,334.6M580.4,351.7L570.3,335.5M578.5,353.0L568.9,336.3M576.4,354.2L567.4,337.1M574.4,355.3L565.9,337.9M572.2,356.4L564.4,338.6M570.1,357.4L562.8,339.3M567.9,358.3L561.2,339.9M565.6,359.1L559.5,340.5M563.4,359.8L557.8,341.0M561.1,360.4L556.0,341.5M558.8,361.0L554.2,341.9M556.4,361.4L552.4,342.3M554.1,361.8L550.6,342.7M551.7,362.2L548.8,343.0M549.4,362.5L547.0,343.2M547.0,362.8L545.2,343.4M544.6,363.2L543.2,343.6M542.3,363.5L541.3,343.7M539.9,363.7L539.2,343.8M537.5,363.9L537.2,343.8M535.1,364.0L535.0,343.9M532.7,364.0L533.0,343.9M530.3,363.8L530.8,343.8M527.9,363.6L528.6,343.8M525.5,363.3L526.5,343.7M523.2,363.0L524.4,343.5M520.8,362.6L522.3,343.4M518.4,362.3L520.2,343.2M516.1,361.9L518.2,343.0M513.7,361.5L516.1,342.7M511.4,361.0L514.0,342.4M509.0,360.4L511.9,342.1M506.8,359.7L509.9,341.8M504.5,358.9L508.3,341.5M502.3,358.0L506.5,341.0M500.2,357.0L504.7,340.6M498.0,355.9L502.6,340.0M495.9,354.7L500.6,339.4M493.9,353.5L498.6,338.8M491.9,352.1L496.4,338.1M489.9,350.7L493.9,337.3M488.2,349.3L493.9,337.3M486.5,347.8L493.8,337.2M485.0,346.2L493.8,337.2M483.5,344.6L493.8,337.2M482.1,342.9L493.7,337.1M480.8,341.0L493.7,337.1M479.7,339.1L493.7,337.0M478.8,337.1L493.7,337.0M478.0,334.9L493.7,337.0M477.5,332.7L493.7,336.9M477.1,330.4L493.7,336.9" fill="none" stroke="#582870" stroke-width="0.95"/>
<path d="M475.9,327.6 C476.0,324.4 476.8,321.2 478.5,319.0 C480.2,316.8 483.0,315.2 486.1,314.2 C489.2,313.2 493.3,312.4 496.9,312.8 C500.5,313.2 503.1,315.2 507.6,316.8 C512.1,318.4 518.4,321.1 523.8,322.2 C529.2,323.3 534.5,323.8 539.9,323.6 C545.3,323.4 551.5,322.7 556.0,320.9 C560.5,319.1 563.9,315.9 566.8,312.8 C569.7,309.7 571.5,305.7 573.5,302.1 C575.5,298.5 577.1,294.8 578.9,291.3 C580.7,287.8 582.6,284.2 584.3,281.0 C585.9,277.8 587.0,274.4 588.8,271.8 C590.5,269.2 592.5,267.1 594.8,265.6 C597.1,264.1 599.9,263.4 602.5,263.0 C605.1,262.6 608.1,262.4 610.5,263.0 C612.9,263.6 615.3,264.6 616.8,266.3 C618.3,268.1 619.2,270.4 619.7,273.5 C620.2,276.6 620.1,280.9 619.7,285.0 C619.3,289.1 618.4,294.0 617.4,298.0 C616.4,302.0 615.4,305.2 613.9,308.8 C612.4,312.4 610.3,315.9 608.5,319.5 C606.7,323.1 605.3,326.8 603.2,330.2 C601.1,333.6 598.5,337.0 595.8,340.0 C593.1,343.0 590.4,345.6 587.0,348.3 C583.6,351.0 579.4,354.0 575.3,356.2 C571.2,358.4 567.0,360.0 562.5,361.3 C558.0,362.6 552.7,363.2 548.0,363.9 C543.3,364.5 539.0,365.2 534.5,365.2 C530.0,365.2 525.6,364.6 521.1,363.9 C516.6,363.2 511.9,362.5 507.6,361.2 C503.3,359.9 499.3,358.0 495.5,355.8 C491.7,353.6 487.7,350.7 484.8,347.8 C481.9,344.9 479.6,341.8 478.1,338.4 C476.6,335.0 475.8,330.8 475.9,327.6Z" fill="none" stroke="#6a6a6a" stroke-width="3.7" stroke-dasharray="0 4.2" stroke-linecap="round"/><path d="M475.9,327.6 C476.0,324.4 476.8,321.2 478.5,319.0 C480.2,316.8 483.0,315.2 486.1,314.2 C489.2,313.2 493.3,312.4 496.9,312.8 C500.5,313.2 503.1,315.2 507.6,316.8 C512.1,318.4 518.4,321.1 523.8,322.2 C529.2,323.3 534.5,323.8 539.9,323.6 C545.3,323.4 551.5,322.7 556.0,320.9 C560.5,319.1 563.9,315.9 566.8,312.8 C569.7,309.7 571.5,305.7 573.5,302.1 C575.5,298.5 577.1,294.8 578.9,291.3 C580.7,287.8 582.6,284.2 584.3,281.0 C585.9,277.8 587.0,274.4 588.8,271.8 C590.5,269.2 592.5,267.1 594.8,265.6 C597.1,264.1 599.9,263.4 602.5,263.0 C605.1,262.6 608.1,262.4 610.5,263.0 C612.9,263.6 615.3,264.6 616.8,266.3 C618.3,268.1 619.2,270.4 619.7,273.5 C620.2,276.6 620.1,280.9 619.7,285.0 C619.3,289.1 618.4,294.0 617.4,298.0 C616.4,302.0 615.4,305.2 613.9,308.8 C612.4,312.4 610.3,315.9 608.5,319.5 C606.7,323.1 605.3,326.8 603.2,330.2 C601.1,333.6 598.5,337.0 595.8,340.0 C593.1,343.0 590.4,345.6 587.0,348.3 C583.6,351.0 579.4,354.0 575.3,356.2 C571.2,358.4 567.0,360.0 562.5,361.3 C558.0,362.6 552.7,363.2 548.0,363.9 C543.3,364.5 539.0,365.2 534.5,365.2 C530.0,365.2 525.6,364.6 521.1,363.9 C516.6,363.2 511.9,362.5 507.6,361.2 C503.3,359.9 499.3,358.0 495.5,355.8 C491.7,353.6 487.7,350.7 484.8,347.8 C481.9,344.9 479.6,341.8 478.1,338.4 C476.6,335.0 475.8,330.8 475.9,327.6Z" fill="none" stroke="#f4f4f4" stroke-width="2.4" stroke-dasharray="0 4.2" stroke-linecap="round"/>
<path d="M493.4,339.2 C494.0,339.4 495.6,339.9 497.3,340.4 C499.0,341.0 501.5,341.8 503.7,342.4 C506.0,343.0 508.4,343.5 510.7,344.0 C513.1,344.4 515.5,344.7 517.9,345.0 C520.4,345.2 523.0,345.5 525.6,345.6 C528.1,345.8 530.5,345.8 533.0,345.9 C535.5,345.9 538.1,345.9 540.6,345.8 C543.1,345.6 545.7,345.4 548.0,345.1 C550.3,344.8 552.2,344.5 554.4,343.9 C556.6,343.4 558.9,342.8 561.0,342.1 C563.1,341.3 565.2,340.5 567.1,339.5 C569.0,338.6 570.9,337.5 572.6,336.3 C574.4,335.2 576.0,333.9 577.5,332.5 C579.1,331.2 580.6,329.8 582.0,328.2 C583.5,326.7 584.8,325.0 586.1,323.2 C587.4,321.5 588.6,319.6 589.7,317.8 C590.8,316.1 591.8,314.6 592.8,312.8 C593.8,310.9 595.0,308.8 595.9,306.8 C596.9,304.8 597.9,302.7 598.8,300.8 C599.7,298.9 600.5,297.0 601.3,295.2 C602.1,293.4 602.9,291.6 603.6,289.9 C604.4,288.2 605.0,286.6 605.7,285.0 C606.3,283.4 606.9,281.8 607.5,280.3 C608.1,278.7 608.7,277.1 609.1,275.8 C609.5,274.6 610.0,273.3 610.2,272.8" fill="none" stroke="#4a2458" stroke-width="3.7" stroke-dasharray="0 3.8" stroke-linecap="round"/><path d="M493.4,339.2 C494.0,339.4 495.6,339.9 497.3,340.4 C499.0,341.0 501.5,341.8 503.7,342.4 C506.0,343.0 508.4,343.5 510.7,344.0 C513.1,344.4 515.5,344.7 517.9,345.0 C520.4,345.2 523.0,345.5 525.6,345.6 C528.1,345.8 530.5,345.8 533.0,345.9 C535.5,345.9 538.1,345.9 540.6,345.8 C543.1,345.6 545.7,345.4 548.0,345.1 C550.3,344.8 552.2,344.5 554.4,343.9 C556.6,343.4 558.9,342.8 561.0,342.1 C563.1,341.3 565.2,340.5 567.1,339.5 C569.0,338.6 570.9,337.5 572.6,336.3 C574.4,335.2 576.0,333.9 577.5,332.5 C579.1,331.2 580.6,329.8 582.0,328.2 C583.5,326.7 584.8,325.0 586.1,323.2 C587.4,321.5 588.6,319.6 589.7,317.8 C590.8,316.1 591.8,314.6 592.8,312.8 C593.8,310.9 595.0,308.8 595.9,306.8 C596.9,304.8 597.9,302.7 598.8,300.8 C599.7,298.9 600.5,297.0 601.3,295.2 C602.1,293.4 602.9,291.6 603.6,289.9 C604.4,288.2 605.0,286.6 605.7,285.0 C606.3,283.4 606.9,281.8 607.5,280.3 C608.1,278.7 608.7,277.1 609.1,275.8 C609.5,274.6 610.0,273.3 610.2,272.8" fill="none" stroke="#cdb3da" stroke-width="2.4" stroke-dasharray="0 3.8" stroke-linecap="round"/>
<path d="M494.6,334.8 C495.3,335.0 497.0,335.5 498.7,336.1 C500.4,336.6 502.8,337.4 505.0,338.0 C507.1,338.5 509.2,339.0 511.5,339.4 C513.7,339.8 516.1,340.1 518.5,340.4 C520.8,340.7 523.4,340.9 525.8,341.0 C528.3,341.2 530.7,341.2 533.1,341.3 C535.5,341.3 538.0,341.3 540.4,341.2 C542.8,341.0 545.3,340.9 547.4,340.6 C549.6,340.3 551.3,339.9 553.4,339.5 C555.4,339.0 557.5,338.4 559.5,337.7 C561.4,337.0 563.3,336.3 565.1,335.4 C566.8,334.5 568.5,333.6 570.0,332.5 C571.6,331.5 573.1,330.3 574.5,329.1 C576.0,327.8 577.4,326.5 578.7,325.1 C580.0,323.6 581.2,322.1 582.4,320.5 C583.6,318.9 584.8,317.1 585.8,315.4 C586.9,313.7 587.8,312.3 588.8,310.5 C589.8,308.7 590.9,306.7 591.8,304.7 C592.8,302.8 593.7,300.7 594.6,298.8 C595.5,296.9 596.3,295.1 597.1,293.3 C597.9,291.6 598.7,289.8 599.4,288.2 C600.1,286.5 600.8,284.9 601.4,283.3 C602.0,281.7 602.6,280.2 603.2,278.7 C603.7,277.2 604.3,275.5 604.8,274.3 C605.2,273.1 605.7,271.7 605.8,271.2" fill="none" stroke="#4a2458" stroke-width="3.7" stroke-dasharray="0 3.8" stroke-linecap="round"/><path d="M494.6,334.8 C495.3,335.0 497.0,335.5 498.7,336.1 C500.4,336.6 502.8,337.4 505.0,338.0 C507.1,338.5 509.2,339.0 511.5,339.4 C513.7,339.8 516.1,340.1 518.5,340.4 C520.8,340.7 523.4,340.9 525.8,341.0 C528.3,341.2 530.7,341.2 533.1,341.3 C535.5,341.3 538.0,341.3 540.4,341.2 C542.8,341.0 545.3,340.9 547.4,340.6 C549.6,340.3 551.3,339.9 553.4,339.5 C555.4,339.0 557.5,338.4 559.5,337.7 C561.4,337.0 563.3,336.3 565.1,335.4 C566.8,334.5 568.5,333.6 570.0,332.5 C571.6,331.5 573.1,330.3 574.5,329.1 C576.0,327.8 577.4,326.5 578.7,325.1 C580.0,323.6 581.2,322.1 582.4,320.5 C583.6,318.9 584.8,317.1 585.8,315.4 C586.9,313.7 587.8,312.3 588.8,310.5 C589.8,308.7 590.9,306.7 591.8,304.7 C592.8,302.8 593.7,300.7 594.6,298.8 C595.5,296.9 596.3,295.1 597.1,293.3 C597.9,291.6 598.7,289.8 599.4,288.2 C600.1,286.5 600.8,284.9 601.4,283.3 C602.0,281.7 602.6,280.2 603.2,278.7 C603.7,277.2 604.3,275.5 604.8,274.3 C605.2,273.1 605.7,271.7 605.8,271.2" fill="none" stroke="#cdb3da" stroke-width="2.4" stroke-dasharray="0 3.8" stroke-linecap="round"/>
</g>

<!-- Sintbad / TBK1 -->
<rect x="38.9" y="242.5" width="13.2" height="43.3" fill="#1d1d1d"/>
<text transform="translate(42.4,264.4) rotate(90)" text-anchor="middle" font-size="12" fill="#f0f0f0" textLength="41" lengthAdjust="spacingAndGlyphs" stroke="#f0f0f0" stroke-width="0.3">Sintbad</text>
<ellipse cx="30.4" cy="262.6" rx="7.9" ry="18.3" fill="#1d1d1d"/>
<text transform="translate(26.4,265.2) rotate(90)" text-anchor="middle" font-size="12" fill="#f0f0f0" textLength="29" lengthAdjust="spacingAndGlyphs" stroke="#f0f0f0" stroke-width="0.3">TBK1</text>
<circle cx="49.2" cy="295" r="4.7" fill="#1d1d1d" stroke="#f0f0f0" stroke-width="0.6"/>
<text x="49.3" y="298.3" text-anchor="middle" font-size="8.5" fill="#f0f0f0" stroke="#f0f0f0" stroke-width="0.3">P</text>
<text x="7.9" y="288.8" font-size="11" fill="#222" textLength="18.6" lengthAdjust="spacingAndGlyphs" stroke="#222" stroke-width="0.3">ATP</text>
<text x="7.9" y="311.9" font-size="11" fill="#222" textLength="22.4" lengthAdjust="spacingAndGlyphs" stroke="#222" stroke-width="0.3">ADP</text>
<path d="M31.4,284.3 Q40,287 44.5,293 Q42,299 33.5,306" fill="none" stroke="#1a1a1a" stroke-width="1.4"/>
<path d="M30,308 L33.5,302.5 L35.5,306.5 Z" fill="#1a1a1a"/>

<!-- PIK3C3 / VPS34 -->
<rect x="141.2" y="301.1" width="56.5" height="36" rx="7" fill="none" stroke="#f6f6f6" stroke-width="4"/>
<rect x="141.2" y="301.1" width="56.5" height="36" rx="7" fill="#8da2d4"/>
<text x="146.2" y="317.2" font-size="12" fill="#7385b8" textLength="43.4" lengthAdjust="spacingAndGlyphs" stroke="#7385b8" stroke-width="0.3">PIK3C3</text>
<ellipse cx="169.5" cy="336.7" rx="27.8" ry="13" fill="none" stroke="#f6f6f6" stroke-width="4"/>
<ellipse cx="169.5" cy="336.7" rx="27.8" ry="13" fill="#8ea3d5" stroke="#1c2233" stroke-width="1.9"/>
<text x="152.3" y="340.2" font-size="11.5" fill="#1e2845" textLength="33.3" lengthAdjust="spacingAndGlyphs" stroke="#1e2845" stroke-width="0.3">VPS34</text>
<!-- arrows -->
<g fill="none" stroke="#1a1a1a" stroke-width="1.5">
<path d="M182.2,350.5 Q186,356 185.5,362 Q184,372 183.2,380 Q182.5,386 183.5,391"/>
<path d="M190.5,362 Q187,362 185.5,365"/>
<path d="M183.5,390 Q181.5,394 180,397"/>
<path d="M183.5,390 Q188,396 192,400"/>
</g>
<path d="M178.5,399.5 L178.8,394.2 L182.6,396.4 Z" fill="#1a1a1a"/>
<path d="M194,403 L188.6,400.4 L192.2,397.2 Z" fill="#1a1a1a"/>
<!-- hexagons -->
<g fill="#f5f5f5" stroke="#1a1a1a" stroke-width="1.8">
<polygon points="179.8,382.6 176.1,389.0 168.7,389.0 165.0,382.6 168.7,376.2 176.1,376.2"/>
<polygon points="174.6,405.3 173.3,413.0 165.9,415.7 160.0,410.7 161.3,403.0 168.7,400.3"/>
</g>
<circle cx="176.5" cy="405.6" r="4.1" fill="#f5f5f5" stroke="#1a1a1a" stroke-width="1.5"/>
<text x="176.6" y="408" text-anchor="middle" font-size="6.5" fill="#1a1a1a" stroke="#1a1a1a" stroke-width="0.3">P</text>
<g font-size="11.2" fill="#222" stroke="#222" stroke-width="0.3">
<text x="192.3" y="366.6" textLength="17.2" lengthAdjust="spacingAndGlyphs">ATP</text>
<text x="195.3" y="407.5" textLength="21.2" lengthAdjust="spacingAndGlyphs">ADP</text>
<text x="167.5" y="424.7" textLength="55" lengthAdjust="spacingAndGlyphs">PtdIns(3)P</text>
</g>

<!-- LETTERS -->
<g font-size="27.5" font-weight="bold" fill="#111">
<text x="9.3" y="430" textLength="20" lengthAdjust="spacingAndGlyphs">A</text>
<text x="242.2" y="429.6" textLength="17.6" lengthAdjust="spacingAndGlyphs">B</text>
<text x="474.8" y="430.3" textLength="18.4" lengthAdjust="spacingAndGlyphs">C</text>
</g>

<!-- PANEL B proteins -->
<g stroke="#1e1e1e" stroke-width="1.6" fill="#ede57e">
<ellipse cx="413.2" cy="368.6" rx="20.5" ry="14" transform="rotate(78 413.2 368.6)" fill="none" stroke="#f6f6f6" stroke-width="4.4"/>
<ellipse cx="413.2" cy="368.6" rx="20.5" ry="14" transform="rotate(78 413.2 368.6)"/>
<ellipse cx="434" cy="349" rx="21.5" ry="15" transform="rotate(72 434 349)" fill="none" stroke="#f6f6f6" stroke-width="4.4"/>
<ellipse cx="434" cy="349" rx="21.5" ry="15" transform="rotate(72 434 349)"/>
<path d="M386,341 Q383,325 392,316 Q402,309 413,313 Q423,319 421,333 Q418,345 405,348 Q396,349 386,347 Z" fill="none" stroke="#f6f6f6" stroke-width="4.4"/>
<path d="M386,341 Q383,325 392,316 Q402,309 413,313 Q423,319 421,333 Q418,345 405,348 Q396,349 386,347 Z"/>
<circle cx="370.5" cy="324.9" r="13.5" fill="none" stroke="#f6f6f6" stroke-width="4.4"/>
<circle cx="370.5" cy="324.9" r="13.5"/>
</g>
<g font-size="11.5" fill="#222" stroke="#222" stroke-width="0.3">
<text x="370.7" y="328.5" text-anchor="middle" textLength="25.5" lengthAdjust="spacingAndGlyphs">ATG8</text>
<text transform="translate(401.8,332) rotate(42)" text-anchor="middle" y="4.6" font-size="13.5" textLength="31" lengthAdjust="spacingAndGlyphs">ATG3</text>
<text transform="translate(434.5,350) rotate(66)" text-anchor="middle" y="4.6" font-size="13.5" textLength="26" lengthAdjust="spacingAndGlyphs">12-5</text>
<text transform="translate(413.5,369) rotate(79)" text-anchor="middle" y="4.6" font-size="13.5" textLength="25.5" lengthAdjust="spacingAndGlyphs">16L1</text>
</g>
<circle cx="395" cy="415" r="26.5" fill="none" stroke="#f6f6f6" stroke-width="4"/>
<circle cx="395" cy="415" r="26.5" fill="#6b6b6b" stroke="#262626" stroke-width="1.6"/>
<text transform="translate(397.6,418.2) rotate(-28)" x="0" y="4.6" text-anchor="middle" font-size="14.5" fill="#e2e2e2" textLength="38.5" lengthAdjust="spacingAndGlyphs" stroke="#e2e2e2" stroke-width="0.2">WIPI2</text>
<g fill="#f4f4f4" stroke="#2a2a2a" stroke-width="1.3">
<polygon points="400.9,384.4 397.7,388.2 392.8,387.3 391.1,382.6 394.3,378.8 399.2,379.7"/>
<polygon points="382.9,406.7 378.9,411.4 372.8,410.3 370.7,404.5 374.7,399.8 380.8,400.9"/>
<polygon points="400.7,395.1 396.5,400.2 390.0,399.1 387.7,392.9 391.9,387.8 398.4,388.9"/>
</g>
<g fill="#e6e6e6" stroke="#2a2a2a" stroke-width="1.1">
<circle cx="385.8" cy="403.6" r="3.6"/>
<circle cx="403.1" cy="393.2" r="3.6"/>
</g>
<g font-size="5" fill="#333" text-anchor="middle" stroke="#333" stroke-width="0.2"><text x="385.8" y="405.4">P</text><text x="403.1" y="395">P</text></g>

<!-- PANEL C proteins -->
<rect x="625.9" y="168.7" width="57" height="25" fill="#b88e60" stroke="#262626" stroke-width="1.8"/>
<text x="636.6" y="184.2" font-size="13" fill="#2a2a2a" textLength="19.5" lengthAdjust="spacingAndGlyphs" stroke="#2a2a2a" stroke-width="0.3">p62</text>
<path d="M635.1,197.4 Q632,214 610,229" fill="none" stroke="#1a1a1a" stroke-width="1.5"/>
<path d="M606.5,232.5 L609.3,225.6 L612.8,230.2 Z" fill="#1a1a1a"/>
<g stroke="#1e1e1e" stroke-width="1.6" fill="#ede57e">
<circle cx="518.8" cy="309" r="13.6" fill="none" stroke="#f6f6f6" stroke-width="4.4"/>
<circle cx="518.8" cy="309" r="13.6"/>
<circle cx="554.1" cy="309" r="13.6" fill="none" stroke="#f6f6f6" stroke-width="4.4"/>
<circle cx="554.1" cy="309" r="13.6"/>
<ellipse cx="632.3" cy="300.2" rx="20" ry="15" transform="rotate(80 632.3 300.2)" fill="none" stroke="#f6f6f6" stroke-width="4.4"/>
<ellipse cx="632.3" cy="300.2" rx="20" ry="15" transform="rotate(80 632.3 300.2)"/>
<ellipse cx="654.5" cy="281.8" rx="21.5" ry="15.5" transform="rotate(75 654.5 281.8)" fill="none" stroke="#f6f6f6" stroke-width="4.4"/>
<ellipse cx="654.5" cy="281.8" rx="21.5" ry="15.5" transform="rotate(75 654.5 281.8)"/>
<path d="M615,262 Q612,247 622,240 Q633,235 643,240 Q653,248 650,261 Q646,272 634,274 Q624,275 615,270 Z" fill="none" stroke="#f6f6f6" stroke-width="4.4"/>
<path d="M615,262 Q612,247 622,240 Q633,235 643,240 Q653,248 650,261 Q646,272 634,274 Q624,275 615,270 Z"/>
<circle cx="601.5" cy="249.2" r="13.6" fill="none" stroke="#f6f6f6" stroke-width="4.4"/>
<circle cx="601.5" cy="249.2" r="13.6"/>
</g>
<g font-size="11.5" fill="#222" stroke="#222" stroke-width="0.3">
<text x="518.8" y="312.8" text-anchor="middle" textLength="25.5" lengthAdjust="spacingAndGlyphs">ATG8</text>
<text x="554.1" y="312.8" text-anchor="middle" textLength="25.5" lengthAdjust="spacingAndGlyphs">ATG8</text>
<text x="601.7" y="253" text-anchor="middle" textLength="25.5" lengthAdjust="spacingAndGlyphs">ATG8</text>
<text transform="translate(632.3,256.5) rotate(42)" text-anchor="middle" y="4.6" font-size="13.5" textLength="31" lengthAdjust="spacingAndGlyphs">ATG3</text>
<text transform="translate(653.9,280.5) rotate(72)" text-anchor="middle" y="4.6" font-size="13.5" textLength="26.5" lengthAdjust="spacingAndGlyphs">12-5</text>
<text transform="translate(632.5,300.5) rotate(80)" text-anchor="middle" y="4.6" font-size="13.5" textLength="25.5" lengthAdjust="spacingAndGlyphs">16L1</text>
</g>
<circle cx="621.4" cy="345" r="26.5" fill="none" stroke="#f6f6f6" stroke-width="4"/>
<circle cx="621.4" cy="345" r="26.5" fill="#6b6b6b" stroke="#262626" stroke-width="1.6"/>
<text transform="translate(625,347.5) rotate(-50)" x="0" y="4.6" text-anchor="middle" font-size="14.5" fill="#e2e2e2" textLength="38" lengthAdjust="spacingAndGlyphs" stroke="#e2e2e2" stroke-width="0.2">WIPI2</text>
<g fill="#f4f4f4" stroke="#2a2a2a" stroke-width="1.3">
<polygon points="606.1,342.4 602.1,347.2 595.9,346.1 593.7,340.2 597.7,335.4 603.9,336.5"/>
<polygon points="619.7,326.2 615.5,331.2 609.1,330.1 606.9,324.0 611.1,319.0 617.5,320.1"/>
</g>
<g fill="#e6e6e6" stroke="#2a2a2a" stroke-width="1.1">
<circle cx="607.9" cy="336.8" r="3.6"/>
<circle cx="622.3" cy="322.4" r="3.6"/>
</g>
<g font-size="5" fill="#333" text-anchor="middle" stroke="#333" stroke-width="0.2"><text x="607.9" y="338.6">P</text><text x="622.3" y="324.2">P</text></g>

<!-- PANEL LINES -->
<line x1="0" y1="155" x2="691" y2="155" stroke="#1e1e1e" stroke-width="1.8"/>
<line x1="229.5" y1="155" x2="229.5" y2="446" stroke="#1e1e1e" stroke-width="1.8"/>
<line x1="462.3" y1="155" x2="462.3" y2="446" stroke="#1e1e1e" stroke-width="1.8"/>

</svg>
</body></html>
